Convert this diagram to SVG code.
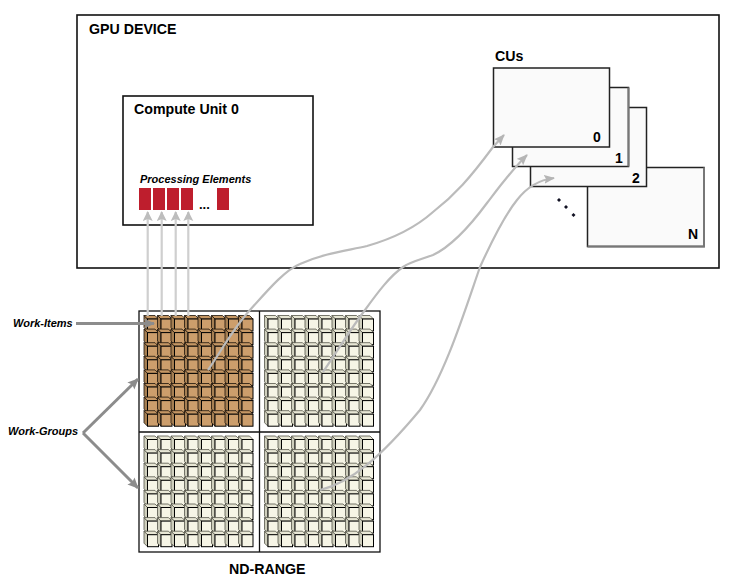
<svg xmlns="http://www.w3.org/2000/svg" xmlns:xlink="http://www.w3.org/1999/xlink" width="737" height="582" viewBox="0 0 737 582">
<style>
text{font-family:"Liberation Sans",Arial,sans-serif;font-weight:bold;fill:#000}
.t14{font-size:14.2px}
.t13{font-size:14px}
.it{font-style:italic;font-size:11px}
.box{fill:#fff;stroke:#111;stroke-width:1.6}
.cu{fill:#fafafa;stroke:#222;stroke-width:1.5}
.side{stroke:#777;stroke-width:2;fill:none}
.pe{fill:#be1e2d}
.c{stroke:var(--k);stroke-width:.8;stroke-linejoin:round}
.r{stroke:#000;stroke-width:1}
.f{fill:var(--f)}.s{fill:var(--s)}.p{fill:var(--p)}
.tan{--f:#cc9e6c;--s:#a67f52;--p:#c59764;--k:#1c130a}
.cream{--f:#f6f5e6;--s:#cfcfbd;--p:#e8e7d5;--k:#55554a}
.up{stroke:#cfcfcf;stroke-width:2.200;fill:none;marker-end:url(#aLight)}
.curve{stroke:#bbb;stroke-width:2.200;fill:none;marker-end:url(#aCurve)}
.lab{stroke:#8c8c8c;stroke-width:3;fill:none;marker-end:url(#aDark)}
</style>
<defs>
<marker id="aLight" markerUnits="userSpaceOnUse" markerWidth="10" markerHeight="12" refX="9" refY="5" orient="auto"><path d="M0 0L10 5L0 10L2 5Z" fill="#bdbdbd"/></marker>
<marker id="aCurve" markerUnits="userSpaceOnUse" markerWidth="12" markerHeight="10" refX="10" refY="4.500" orient="auto"><path d="M0 0L11 4.500L0 9L2 4.500Z" fill="#b5b5b5"/></marker>
<marker id="aDark" markerUnits="userSpaceOnUse" markerWidth="12" markerHeight="12" refX="10" refY="5" orient="auto"><path d="M0 0L11 5L0 10L2 5Z" fill="#8c8c8c"/></marker>
<g id="cube">
<path class="c s" d="M0 0L-3.500-3.500V8.500L0 12Z"/>
<path class="c p" d="M0 0L-3.500-3.500H7.500L11 0Z"/>
<rect class="r f" width="11" height="12"/>
</g>
<g id="row">
<use xlink:href="#cube"/><use xlink:href="#cube" x="13.500"/><use xlink:href="#cube" x="27"/><use xlink:href="#cube" x="40.500"/><use xlink:href="#cube" x="54"/><use xlink:href="#cube" x="67.500"/><use xlink:href="#cube" x="81"/><use xlink:href="#cube" x="94.500"/>
</g>
<g id="grid">
<use xlink:href="#row"/><use xlink:href="#row" y="13.600"/><use xlink:href="#row" y="27.200"/><use xlink:href="#row" y="40.800"/><use xlink:href="#row" y="54.400"/><use xlink:href="#row" y="68"/><use xlink:href="#row" y="81.600"/><use xlink:href="#row" y="95.200"/>
</g>
</defs>
<rect width="737" height="582" fill="#fff"/>
<g id="gpu-device">
<rect class="box" x="77" y="15" width="642" height="253"/>
<text class="t14" x="89" y="34">GPU DEVICE</text>
</g>
<g id="compute-unit-0">
<rect class="box" x="123" y="96" width="190" height="129"/>
<text class="t14" x="134" y="114">Compute Unit 0</text>
<text class="it" x="140" y="183">Processing Elements</text>
<rect class="pe" x="139" y="188" width="12" height="22"/>
<rect class="pe" x="153" y="188" width="12" height="22"/>
<rect class="pe" x="167" y="188" width="12" height="22"/>
<rect class="pe" x="181" y="188" width="12" height="22"/>
<text x="199" y="209" style="font-size:13px;font-weight:bold">...</text>
<rect class="pe" x="217" y="188" width="12" height="22"/>
</g>
<g id="cu-n">
<rect class="cu" x="587.500" y="167.500" width="116.500" height="79"/>
<path class="side" d="M704 167.500V246.500H587.500"/>
<text class="t13" x="688" y="239">N</text>
</g>
<g id="cu-2">
<rect class="cu" x="530.500" y="107.500" width="116" height="79"/>
<text class="t13" x="632" y="183">2</text>
</g>
<g id="cu-1">
<rect class="cu" x="512.500" y="87.500" width="116" height="79"/>
<path class="side" d="M628.500 87.500V166.500"/>
<text class="t13" x="615" y="163">1</text>
</g>
<g id="cu-0">
<rect class="cu" x="493.500" y="68" width="116" height="79"/>
<text class="t13" x="593" y="142">0</text>
<text class="t14" x="495" y="61">CUs</text>
</g>
<g id="cu-dots" fill="#112">
<path d="M559 198l2 2-2 2-2-2Z"/><path d="M566 205l2 2-2 2-2-2Z"/><path d="M573.500 213l2 2-2 2-2-2Z"/>
</g>
<g id="nd-range">
<rect x="139" y="311" width="241" height="241" fill="#fff" stroke="#111" stroke-width="1.300"/>
<path d="M259.500 311V552M139 432H380" stroke="#111" stroke-width="1.300" fill="none"/>
<g class="tan"><use xlink:href="#grid" x="147.500" y="319"/></g>
<g class="cream"><use xlink:href="#grid" x="268" y="319"/></g>
<g class="cream"><use xlink:href="#grid" x="147.500" y="439.500"/></g>
<g class="cream"><use xlink:href="#grid" x="268" y="439.500"/></g>
<text class="t14" x="229" y="574">ND-RANGE</text>
</g>
<g id="connectors">
<path class="up" d="M147.700 316V212"/>
<path class="up" d="M161.700 316V212"/>
<path class="up" d="M175.700 316V212"/>
<path class="up" d="M188.300 316V212"/>
<path class="curve" d="M208 370C222 350 232 330 250 310C268 290 285 270 300 264C325 253 345 251 367 246C395 238 415 228 433 212C455 195 470 178 493 147L504 135"/>
<path class="curve" d="M323 372C338 350 350 330 365 310C378 292 390 276 403 267C412 261 420 260 433 255C450 247 470 226 487 203C497 190 510 172 527 155"/>
<path class="curve" d="M320 490C350 483 380 458 420 410C445 375 465 310 480 267C490 245 505 215 517 200C527 187 538 180 554 178"/>
<path class="lab" d="M76 323.500H154"/>
<path class="lab" d="M83 433L138 379"/>
<path class="lab" d="M83 433L138 488"/>
</g>
<g id="labels">
<text class="it" x="13" y="327">Work-Items</text>
<text class="it" x="8" y="435">Work-Groups</text>
</g>
</svg>
